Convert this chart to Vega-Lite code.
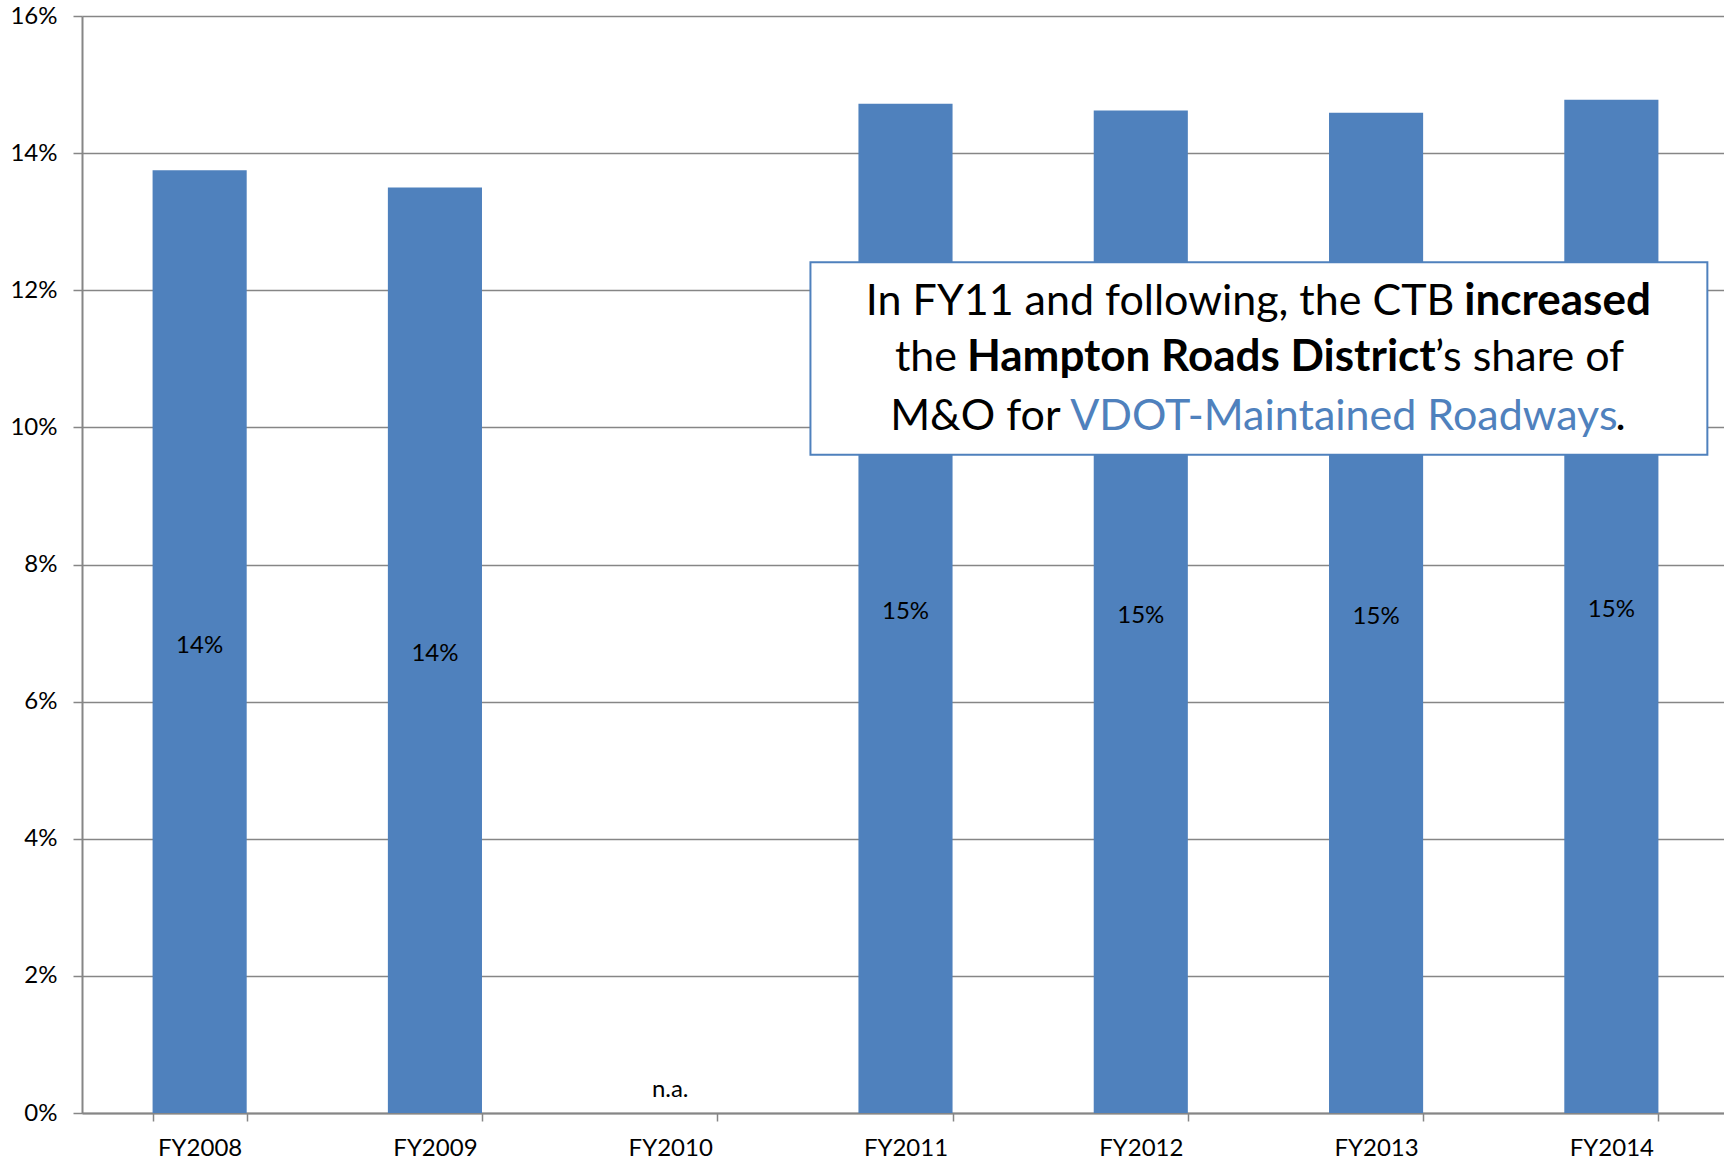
{
  "$schema": "https://vega.github.io/schema/vega-lite/v6.json",
  "width": 1647,
  "height": 1097,
  "autosize": "none",
  "padding": {"left": 82, "top": 16, "right": 0, "bottom": 49},
  "config": {"view": {"stroke": null}, "font": "Lato", "text": {"font": "Lato"}},
  "datasets": {
    "bars": [
      {"year": "FY2008", "share": 13.75, "label": "14%"},
      {"year": "FY2009", "share": 13.5, "label": "14%"},
      {"year": "FY2010", "share": null, "label": "n.a."},
      {"year": "FY2011", "share": 14.72, "label": "15%"},
      {"year": "FY2012", "share": 14.62, "label": "15%"},
      {"year": "FY2013", "share": 14.59, "label": "15%"},
      {"year": "FY2014", "share": 14.78, "label": "15%"}
    ]
  },
  "resolve": {"scale": {"x": "independent"}},
  "layer": [
    {
      "data": {"name": "bars"},
      "layer": [
        {
          "mark": {"type": "bar", "color": "#4f81bd"},
          "encoding": {
            "x": {"field": "year", "type": "nominal", "sort": null,
              "scale": {"domain": ["FY2008", "FY2009", "FY2010", "FY2011", "FY2012", "FY2013", "FY2014"], "paddingInner": 0.6, "paddingOuter": 0.3},
              "axis": {"title": null, "labelAngle": 0, "labelFontSize": 24, "labelColor": "#000000",
                "labelFont": "Lato", "tickBand": "extent", "tickSize": 8, "tickColor": "#868686",
                "tickWidth": 1.5, "domainColor": "#868686", "domainWidth": 2, "labelPadding": 15}},
            "y": {"field": "share", "type": "quantitative",
              "scale": {"domain": [0, 16], "nice": false},
              "axis": {"title": null, "values": [0, 2, 4, 6, 8, 10, 12, 14, 16],
                "labelExpr": "datum.value + '%'", "labelFontSize": 24, "labelColor": "#000000",
                "labelFont": "Lato", "grid": true, "gridColor": "#868686", "gridWidth": 1.5,
                "domainColor": "#868686", "domainWidth": 2, "tickColor": "#868686", "tickWidth": 1.5,
                "tickSize": 9, "labelPadding": 16}}
          }
        },
        {
          "transform": [{"calculate": "datum.share == null ? 0.4 : datum.share / 2", "as": "labelY"}],
          "mark": {"type": "text", "fontSize": 24, "color": "#000000", "baseline": "middle", "dy": 4},
          "encoding": {
            "x": {"field": "year", "type": "nominal", "sort": null},
            "y": {"field": "labelY", "type": "quantitative"},
            "text": {"field": "label"}
          }
        }
      ]
    },
    {
      "data": {"values": [{}]},
      "layer": [
        {
          "mark": {"type": "rect", "fill": "#ffffff", "stroke": "#4f81bd", "strokeWidth": 2},
          "encoding": {
            "x": {"datum": 3.096, "type": "quantitative", "scale": {"domain": [0, 7], "nice": false, "zero": false}, "axis": null},
            "x2": {"datum": 6.908},
            "y": {"datum": 9.6, "type": "quantitative"},
            "y2": {"datum": 12.41}
          }
        },
        {
          "mark": {"type": "text", "text": "In FY11 and following, the CTB", "fontSize": 43, "align": "right", "baseline": "middle", "color": "#000000"},
          "encoding": {"x": {"datum": 5.833, "type": "quantitative"}, "y": {"datum": 11.83, "type": "quantitative"}}
        },
        {
          "mark": {"type": "text", "text": "increased", "fontSize": 44, "fontWeight": "bold", "align": "left", "baseline": "middle", "color": "#000000"},
          "encoding": {"x": {"datum": 5.875, "type": "quantitative"}, "y": {"datum": 11.83, "type": "quantitative"}}
        },
        {
          "mark": {"type": "text", "text": "the", "fontSize": 43, "align": "right", "baseline": "middle", "color": "#000000"},
          "encoding": {"x": {"datum": 3.719, "type": "quantitative"}, "y": {"datum": 11.01, "type": "quantitative"}}
        },
        {
          "mark": {"type": "text", "text": "Hampton Roads District", "fontSize": 44, "fontWeight": "bold", "align": "left", "baseline": "middle", "color": "#000000"},
          "encoding": {"x": {"datum": 3.761, "type": "quantitative"}, "y": {"datum": 11.01, "type": "quantitative"}}
        },
        {
          "mark": {"type": "text", "text": "’s share of", "fontSize": 43, "align": "left", "baseline": "middle", "color": "#000000"},
          "encoding": {"x": {"datum": 5.75, "type": "quantitative"}, "y": {"datum": 11.01, "type": "quantitative"}}
        },
        {
          "mark": {"type": "text", "text": "M&O for", "fontSize": 43, "align": "right", "baseline": "middle", "color": "#000000"},
          "encoding": {"x": {"datum": 4.159, "type": "quantitative"}, "y": {"datum": 10.15, "type": "quantitative"}}
        },
        {
          "mark": {"type": "text", "text": "VDOT-Maintained Roadways", "fontSize": 43, "align": "left", "baseline": "middle", "color": "#4f81bd"},
          "encoding": {"x": {"datum": 4.2, "type": "quantitative"}, "y": {"datum": 10.15, "type": "quantitative"}}
        },
        {
          "mark": {"type": "text", "text": ".", "fontSize": 43, "align": "left", "baseline": "middle", "color": "#000000"},
          "encoding": {"x": {"datum": 6.518, "type": "quantitative"}, "y": {"datum": 10.15, "type": "quantitative"}}
        }
      ]
    }
  ]
}
